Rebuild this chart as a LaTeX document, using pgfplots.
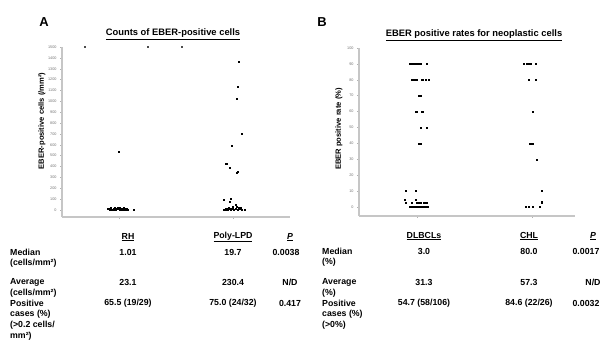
\documentclass[border=0pt]{standalone}
\usepackage{pgfplots}
\pgfplotsset{compat=1.18}
\usepackage{fontspec}
\setmainfont{Liberation Sans}
\newcommand{\tb}{\bfseries\fontsize{8.8}{10}\selectfont}
\pgfplotsset{
  panel/.style={
    scale only axis, anchor=south west,
    axis x line=bottom, axis y line=left,
    axis line style={-, draw=gray!45, line width=1.1bp},
    tick align=outside, major tick length=2bp,
    tick style={draw=gray!60, line width=0.4bp},
    yticklabel style={font=\fontsize{3.8}{4}\selectfont, text=gray!90!black},
    /pgf/number format/assume math mode=true,
    /pgf/number format/1000 sep={},
    xtick={0,1}, xticklabels={,},
    ytick pos=left,
    mark size=0.55bp,
  },
  dots/.style={only marks, mark=square*, black, mark options={draw=black, fill=black}},
}
\begin{document}
\begin{tikzpicture}
\begin{scope}[x=1bp,y=1bp]
\useasboundingbox (0,0) rectangle (606,338);
\end{scope}
% ---------- Panel A ----------
\begin{axis}[panel, at={(62bp,121bp)}, width=228bp, height=170bp,
  xmin=-0.5, xmax=1.5, ymin=-64, ymax=1500,
  ytick={0,100,...,1500}, clip=false]
\addplot[dots] coordinates {
 (-0.10,10) (-0.09,14) (-0.08,8) (-0.07,18) (-0.06,5) (-0.05,12) (-0.04,20)
 (-0.03,6) (-0.02,15) (-0.01,22) (0.00,9) (0.01,25) (0.01,3) (0.02,16)
 (0.03,11) (0.04,19) (0.05,4) (0.06,8) (0.07,13) (0.08,2) (0.02,0)
 (-0.04,1) (0.04,0) (-0.08,0) (0.06,1) (0.13,0) (0.00,534)
};
\addplot[dots] coordinates {
 (1.05,1362) (1.04,1131) (1.03,1021) (1.08,699) (0.99,589) (0.94,423)
 (0.97,386) (1.03,340) (1.04,355) (0.92,92) (0.98,101) (0.97,74)
 (1.02,46) (1.00,28) (0.92,5) (0.94,8) (0.95,2) (0.97,15) (0.98,0)
 (0.99,10) (1.00,20) (1.01,3) (1.02,12) (1.03,30) (1.04,6) (1.05,18)
 (1.06,9) (1.08,2) (1.10,1) (0.96,25) (1.07,22)
};
\addplot[only marks, mark=square*, mark size=0.4bp, black!70] coordinates {
 (-0.30,1500) (0.25,1500) (0.55,1500)
};
\end{axis}
% ---------- Panel B ----------
\begin{axis}[panel, at={(359bp,122bp)}, width=216bp, height=168bp,
  xmin=-0.51, xmax=1.37, ymin=-5.7, ymax=100,
  ytick={0,10,...,100}, clip=false]
\addplot[dots] coordinates {
 (-0.07,90) (-0.06,90) (-0.04,90) (-0.03,90) (-0.01,90) (0.00,90) (0.02,90) (0.03,90) (0.08,90)
 (-0.05,80) (-0.04,80) (-0.03,80) (-0.01,80) (0.04,80) (0.07,80) (0.10,80)
 (0.01,70) (0.03,70)
 (-0.02,60) (-0.01,60) (0.04,60)
 (0.03,50) (0.08,50)
 (0.01,40) (0.03,40)
 (-0.10,10) (-0.02,10)
 (-0.11,4.5) (-0.02,4.5)
 (-0.10,2.5) (-0.05,2.5) (-0.01,2.5) (0.01,2.5) (0.03,2.5) (0.05,2.5) (0.07,2.5) (0.08,2.5)
 (-0.07,0) (-0.05,0) (-0.04,0) (-0.03,0) (-0.02,0) (0.00,0) (0.01,0) (0.02,0)
 (0.03,0) (0.04,0) (0.05,0) (0.06,0) (0.07,0) (0.09,0)
};
\addplot[dots] coordinates {
 (0.92,90) (0.95,90) (0.97,90) (0.98,90) (1.03,90)
 (0.97,80) (1.03,80)
 (1.00,60)
 (0.98,40) (1.00,40)
 (1.04,30)
 (1.08,10)
 (1.08,3)
 (0.94,0) (0.97,0) (1.00,0) (1.06,0)
};
\end{axis}
\begin{scope}[x=1bp,y=1bp]
% ---------- titles ----------
\node[font=\bfseries\fontsize{13}{13}\selectfont] at (44,338-22) {A};
\node[font=\bfseries\fontsize{13}{13}\selectfont] at (322,338-22) {B};
\node[font=\bfseries\fontsize{9.4}{10}\selectfont] at (173,338-34) {\underline{Counts of EBER-positive cells}};
\node[font=\bfseries\fontsize{9.4}{10}\selectfont] at (474,338-35) {\underline{EBER positive rates for neoplastic cells}};
\node[font=\bfseries\fontsize{7.6}{8}\selectfont, rotate=90] at (42,338-121) {EBER-positive cells (/mm²)};
\node[font=\bfseries\fontsize{7.6}{8}\selectfont, rotate=90] at (339,338-129) {EBER positive rate (\%)};
\end{scope}
% ---------- tables ----------
\begin{scope}[x=1bp,y=1bp, every node/.style={font=\tb, inner sep=0pt}]
\node at (128,338-237) {\underline{RH}};
\node at (233,338-237) {\underline{Poly-LPD}};
\node at (290,338-237) {\underline{\itshape P}};
\node[anchor=west] at (10,338-252) {Median};
\node[anchor=west] at (10,338-263) {(cells/mm²)};
\node at (128,338-252) {1.01};
\node at (233,338-252) {19.7};
\node at (286,338-252) {0.0038};
\node[anchor=west] at (10,338-282) {Average};
\node[anchor=west] at (10,338-293) {(cells/mm²)};
\node at (128,338-282) {23.1};
\node at (233,338-282) {230.4};
\node at (290,338-282) {N/D};
\node[anchor=west] at (10,338-303) {Positive};
\node[anchor=west] at (10,338-314) {cases (\%)};
\node[anchor=west] at (10,338-325) {(>0.2 cells/};
\node[anchor=west] at (10,338-336) {mm²)};
\node at (128,338-303) {65.5 (19/29)};
\node at (233,338-303) {75.0 (24/32)};
\node at (290,338-303) {0.417};
\node at (424,338-236) {\underline{DLBCLs}};
\node at (529,338-236) {\underline{CHL}};
\node at (593,338-236) {\underline{\itshape P}};
\node[anchor=west] at (322,338-251) {Median};
\node[anchor=west] at (322,338-262) {(\%)};
\node at (424,338-251) {3.0};
\node at (529,338-251) {80.0};
\node at (586,338-251) {0.0017};
\node[anchor=west] at (322,338-282) {Average};
\node[anchor=west] at (322,338-293) {(\%)};
\node at (424,338-282) {31.3};
\node at (529,338-282) {57.3};
\node at (593,338-282) {N/D};
\node[anchor=west] at (322,338-303) {Positive};
\node[anchor=west] at (322,338-314) {cases (\%)};
\node[anchor=west] at (322,338-325) {(>0\%)};
\node at (424,338-303) {54.7 (58/106)};
\node at (529,338-303) {84.6 (22/26)};
\node at (586,338-303) {0.0032};
\end{scope}
\end{tikzpicture}
\end{document}
